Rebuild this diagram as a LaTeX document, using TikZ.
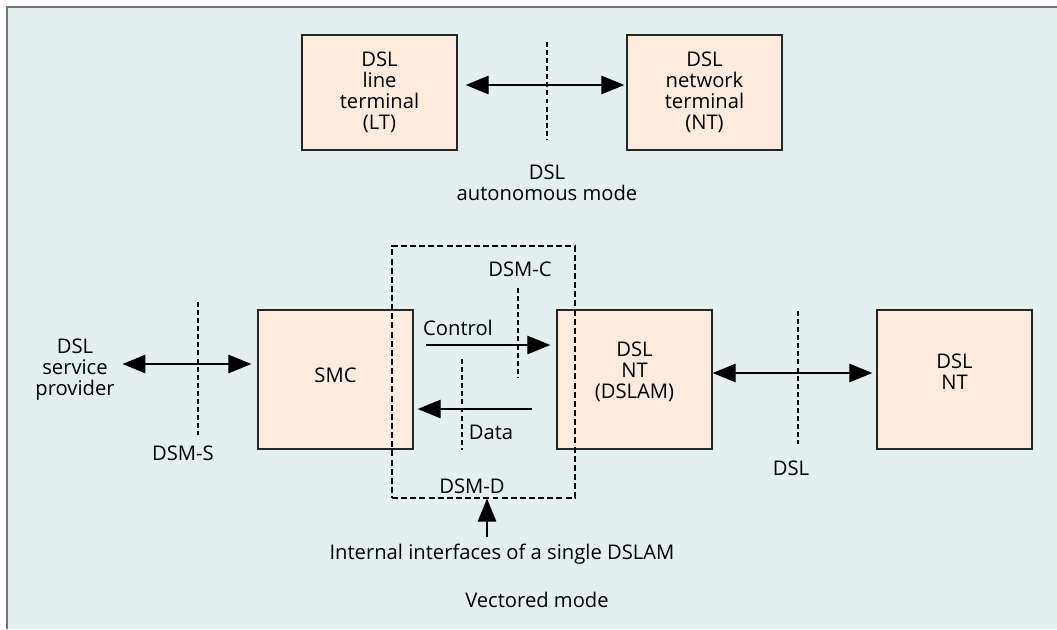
\documentclass[tikz,border=0pt]{standalone}
\usepackage{fontspec}
\setmainfont{Open Sans}
\usepackage{xcolor}
\usetikzlibrary{arrows.meta,calc,positioning}

\definecolor{panelbg}{HTML}{E4F0F0}
\definecolor{boxfill}{HTML}{FDEBDE}
\definecolor{framegray}{HTML}{737373}

\begin{document}
\begin{tikzpicture}[x=0.02cm,y=-0.02cm,
	box/.style={draw=black!85, line width=0.8pt, fill=boxfill, minimum width=3.1cm, inner sep=0pt, align=center, font=\fontsize{11.5}{12}\selectfont},
	lbl/.style={align=center, inner sep=2pt, font=\fontsize{11.5}{12}\selectfont},
	arr/.style={-{Triangle[length=0.46cm,width=0.37cm]}, line width=0.7pt},
	dblarr/.style={{Triangle[length=0.46cm,width=0.37cm]}-{Triangle[length=0.46cm,width=0.37cm]}, line width=0.7pt},
	sepline/.style={dash pattern=on 2.8pt off 1.8pt, line width=0.6pt},
	group/.style={draw, dash pattern=on 3.4pt off 1.8pt, line width=0.7pt, inner sep=0pt}]

			\useasboundingbox (0,0) rectangle (1057,629);
			\fill[panelbg] (7,7) rectangle (1057,629);
			\draw[framegray, line width=1.2pt] (7,629) -- (7,7) -- (1057,7);

			% autonomous mode
			\node[box, minimum height=2.3cm] (lt) at (379.5,92.5) {DSL\\line\\terminal\\(LT)};
			\node[box, minimum height=2.3cm] (ntt) at (704.5,92.5) {DSL\\network\\terminal\\(NT)};
			\draw[sepline] (547,42) -- (547,140);
			\draw[dblarr] ($(lt.east)+(8,-7.5)$) -- ($(ntt.west)+(-2,-7.5)$);
			\node[lbl] (auto) at (547,182.5) {DSL\\autonomous mode};

			% vectored mode
			\node[box, minimum height=2.78cm, label={[lbl, yshift=0.09cm]center:SMC}] (smc) at (335.5,379.5) {};
			\node[box, minimum height=2.78cm, label={[lbl, yshift=0.15cm]center:{DSL\\NT\\(DSLAM)}}] (dslam) at (634.5,379.5) {};
			\node[box, minimum height=2.78cm, label={[lbl, yshift=0.15cm]center:{DSL\\NT}}] (nt) at (954.5,379.5) {};
			\node[group, minimum width=3.66cm, minimum height=5.04cm] (dsm) at (483.5,372) {};

			\node[lbl] (sp) at (75,370) {DSL\\service\\provider};
			\draw[sepline] (198,302) -- (198,435);
			\node[lbl] (dsms) at (183,453) {DSM-S};
			\draw[dblarr] ($(sp.east)+(4,-6)$) -- ($(smc.west)+(-6,-15.5)$);

			\draw[sepline] (518,288) -- (518,377);
			\node[lbl] (dsmc) at (520,269) {DSM-C};
			\node[lbl] (ctrl) at (458,328) {Control};
			\draw[arr] ($(smc.east)+(12,-34.5)$) -- ($(dslam.west)+(-6,-34.5)$);

			\draw[sepline] (462,359) -- (462,450);
			\node[lbl] (data) at (491,432) {Data};
			\draw[arr] ($(dslam.west)+(-24,29.5)$) -- ($(smc.east)+(4,29.5)$);
			\node[lbl] (dsmd) at (472,486) {DSM-D};

			\draw[sepline] (798,311) -- (798,444);
			\draw[dblarr] ($(dslam.east)+(0,-6.5)$) -- ($(nt.west)+(-4,-6.5)$);
			\node[lbl] (dsl) at (791,468) {DSL};

			\node[lbl] (intl) at (502,554) {Internal interfaces of a single DSLAM};
			\coordinate (ifc) at (487,537);
			\draw[arr] (ifc) -- (ifc |- dsm.south);

			\node[lbl] (vect) at (537,600) {Vectored mode};

		\end{tikzpicture}
\end{document}
